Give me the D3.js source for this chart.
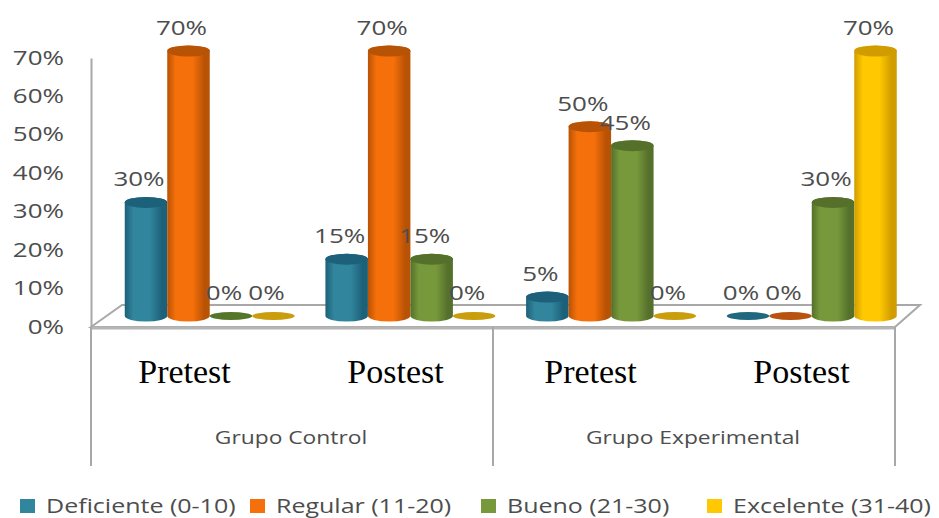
<!DOCTYPE html>
<html>
<head>
<meta charset="utf-8">
<script src="https://cdn.jsdelivr.net/npm/d3@7/dist/d3.min.js"></script>
<style>
html,body{margin:0;padding:0;background:#fff;overflow:hidden}
svg{display:block}
text{font-family:"Open Sans",sans-serif;fill:#4d4d4d}
</style>
</head>
<body>
<svg id="chart" width="939" height="518"></svg>
<script>
// Results by group and test moment, percent of students per score band
const groups = ["Grupo Control", "Grupo Experimental"];
const moments = ["Pretest", "Postest", "Pretest", "Postest"];
const seriesNames = ["Deficiente (0-10)", "Regular (11-20)", "Bueno (21-30)", "Excelente (31-40)"];
const deficiente = [30, 15, 5, 0];
const regular = [70, 70, 50, 0];
const bueno = [0, 15, 45, 30];
const excelente = [0, 0, 0, 70];
const seriesValues = [deficiente, regular, bueno, excelente];
const axisTicks = [0, 10, 20, 30, 40, 50, 60, 70];

const palette = [
  {main:"#31859c", dark:"#1c6079", flat:"#1f6880"},
  {main:"#f5700a", dark:"#b85205", flat:"#b9520f"},
  {main:"#77993c", dark:"#55702a", flat:"#55762a"},
  {main:"#ffc800", dark:"#d09c00", flat:"#c99d0c"}
];

const svg = d3.select("#chart");
const SX = 1.3; // the whole chart is drawn slightly wide

// Scaled text helper: anchors stay put while the glyphs widen
function wideText(sel, x, y, size, sx) {
  return sel.attr("transform", (d,i) => `translate(${x(d,i)},${y(d,i)}) scale(${sx},1)`)
    .style("font-size", size + "px");
}

// Scales
const floorFront = 327, floorBack = 305, left = 91, right = 895;
const depthX = 31;
const yAxisScale = d3.scaleLinear().domain([0,70]).range([floorFront, 58]);
const yBar = d3.scaleLinear().domain([0,70]).range([316, 51]);
const xMoment = d3.scaleBand().domain(d3.range(moments.length)).range([109.5, 912]).paddingInner(0.153).paddingOuter(0.076);
const xSeries = d3.scaleBand().domain(d3.range(seriesNames.length)).range([0, xMoment.bandwidth()]);

// Cylinder shading
const defs = svg.append("defs");
palette.forEach((c,i) => {
  const g = defs.append("linearGradient").attr("id","cyl"+i);
  [[0,c.dark],[0.2,c.main],[0.6,c.main],[0.88,c.dark],[1,c.dark]].forEach(s =>
    g.append("stop").attr("offset",s[0]).attr("stop-color",s[1]));
});

// Floor and frame
const lineCol = "#a8a8a8";
svg.append("path")
  .attr("d", `M${left},${floorFront}L${left+depthX},${floorBack}L${right+depthX-6},${floorBack}L${right},${floorFront}Z`)
  .attr("fill","#fff").attr("stroke",lineCol).attr("stroke-width",2);
svg.append("line").attr("x1",left).attr("x2",right).attr("y1",floorFront+1).attr("y2",floorFront+1)
  .attr("stroke","#b5b5b5").attr("stroke-width",3);

[left, (left+right)/2 + 45/2 - 22.5 + 0, right].forEach(x => {
  svg.append("line").attr("x1",x).attr("x2",x).attr("y1",floorFront).attr("y2",466)
    .attr("stroke",lineCol).attr("stroke-width",2);
});

// Value axis
const axis = svg.append("g").attr("transform",`translate(${left},0)`)
  .call(d3.axisLeft(yAxisScale).tickValues(axisTicks).tickSize(0).tickFormat(d => d + "%"));
axis.select(".domain").attr("stroke",lineCol).attr("stroke-width",2);
axis.selectAll(".tick text")
  .attr("x",0).attr("dy",null)
  .attr("transform",`translate(-27,6) scale(${SX},1)`)
  .style("font-size","20px").style("font-family",'"Open Sans",sans-serif').style("fill","#4d4d4d");

// Cylinders
const ry = 5.5;
function cylinderPath(x, w, yTop, yBase) {
  const rx = w/2;
  return `M${x},${yTop}L${x},${yBase}A${rx},${ry} 0 0 0 ${x+w},${yBase}L${x+w},${yTop}A${rx},${ry} 0 0 0 ${x},${yTop}Z`;
}
const marks = [];
seriesValues.forEach((vals,s) => vals.forEach((v,m) => marks.push({s,m,v})));
marks.sort((a,b) => a.m - b.m || a.s - b.s);

const markG = svg.append("g");
marks.forEach(d => {
  const x = xMoment(d.m) + xSeries(d.s), w = xSeries.bandwidth(), c = palette[d.s];
  if (d.v === 0) {
    markG.append("ellipse").attr("cx",x+w/2).attr("cy",yBar(0)).attr("rx",w/2).attr("ry",4)
      .attr("fill",c.flat);
    return;
  }
  markG.append("path").attr("d",cylinderPath(x,w,yBar(d.v),yBar(0)))
    .attr("fill",`url(#cyl${d.s})`);
  markG.append("ellipse").attr("cx",x+w/2).attr("cy",yBar(d.v)).attr("rx",w/2).attr("ry",ry)
    .attr("fill",c.dark);
});

// Value labels sit up and to the left of each cylinder
svg.append("g").selectAll("text").data(marks).join("text")
  .attr("text-anchor","middle")
  .text(d => d.v + "%")
  .call(wideText,
    d => xMoment(d.m) + xSeries(d.s) + xSeries.bandwidth()/2 - 7,
    d => yBar(d.v) - 16,
    20, SX);

// Test moment labels
const momentNudge = [-7, 3, -3, 7];
const sectionW = (right-left)/4;
svg.append("g").selectAll("text").data(moments).join("text")
  .attr("text-anchor","middle")
  .text(d => d)
  .style("font-family",'"Liberation Serif",serif').style("fill","#000")
  .call(wideText, (d,i) => left + sectionW*(i+0.5) + momentNudge[i], () => 383, 34, 1);

// Group labels
svg.append("g").selectAll("text").data(groups).join("text")
  .attr("text-anchor","middle")
  .text(d => d)
  .call(wideText, (d,i) => left + 2*sectionW*(i+0.5) - 1, () => 444, 19, 1.2);

// Legend
const legendX = [20, 250, 481, 707];
const legend = svg.append("g").selectAll("g").data(seriesNames).join("g")
  .attr("transform",(d,i) => `translate(${legendX[i]},0)`);
legend.append("rect").attr("x",0).attr("y",499).attr("width",15).attr("height",14)
  .attr("fill",(d,i) => palette[i].main);
legend.append("text").text(d => d)
  .call(wideText, () => 26, () => 513, 20, 1.25);
</script>
</body>
</html>
